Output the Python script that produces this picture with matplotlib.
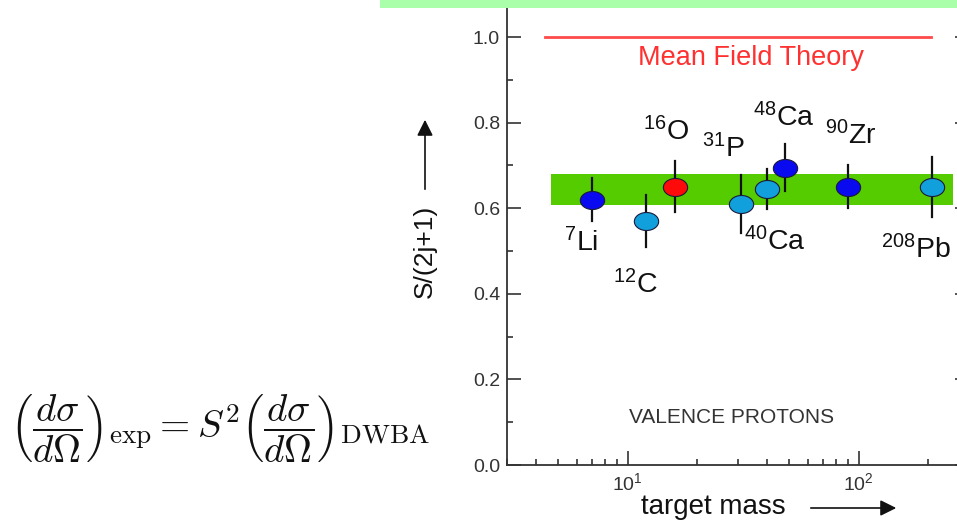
import matplotlib
matplotlib.use("Agg")
import matplotlib.pyplot as plt
from matplotlib.path import Path
from matplotlib.patches import Rectangle, FancyArrowPatch
import numpy as np

plt.rcParams['font.family'] = ['Liberation Sans', 'DejaVu Sans']
plt.rcParams['mathtext.fontset'] = 'custom'
plt.rcParams['mathtext.rm'] = 'Liberation Sans'
plt.rcParams['mathtext.it'] = 'Liberation Sans:italic'
plt.rcParams['mathtext.bf'] = 'Liberation Sans:bold'

# ---------------- data ----------------
mass = [7, 12, 16, 31, 40, 48, 90, 208]
strength = [0.62, 0.57, 0.65, 0.61, 0.645, 0.695, 0.65, 0.65]
strength_err = [0.05, 0.06, 0.06, 0.068, 0.047, 0.055, 0.05, 0.07]
point_kind = ['dark', 'light', 'red', 'light', 'light', 'dark', 'dark', 'light']

label_text = [r'$^{\mathregular{7}}$Li', r'$^{\mathregular{12}}$C', r'$^{\mathregular{16}}$O',
              r'$^{\mathregular{31}}$P', r'$^{\mathregular{40}}$Ca', r'$^{\mathregular{48}}$Ca',
              r'$^{\mathregular{90}}$Zr', r'$^{\mathregular{208}}$Pb']
label_x = [6.3, 10.8, 14.6, 25.8, 43.5, 47.5, 92, 176]
label_y = [0.50, 0.402, 0.759, 0.72, 0.502, 0.792, 0.75, 0.484]

band_x = [4.65, 255]
band_low = 0.608
band_high = 0.680

mft_x = [4.4, 205]
mft_y = [1.0, 1.0]

yticks = [0.0, 0.2, 0.4, 0.6, 0.8, 1.0]
ytick_labels = ['0.0', '0.2', '0.4', '0.6', '0.8', '1.0']
xticks = [10, 100]
xtick_labels = [r'$\mathregular{10^{1}}$', r'$\mathregular{10^{2}}$']

kind_colors = {'dark': '#0a0af0', 'light': '#12a0dc', 'red': '#ff0a0a'}

# ---------------- figure ----------------
W, H = 957, 523
fig = plt.figure(figsize=(W / 100, H / 100), dpi=100)
ax = fig.add_axes([507 / W, 58 / H, 462 / W, 1.1 * 428 / H])
ax.set_xscale('log')
ax.set_xlim(3, 300)
ax.set_ylim(0, 1.1)

# green band
ax.fill_between(band_x, [band_low] * 2, [band_high] * 2, color='#55cc00', lw=0, zorder=1)
# mean field line
ax.plot(mft_x, mft_y, color='#ff4a4a', lw=2.0, zorder=2)
ax.text(np.sqrt(mft_x[0] * mft_x[1]) * 1.14, 0.95, 'Mean Field Theory', color='#ff3030',
        fontsize=19.5, ha='center', va='center')

# ellipse marker
t = np.linspace(0, 2 * np.pi, 60)
ell = Path(np.column_stack([1.35 * np.cos(t), np.sin(t)]), closed=True)

for m, s, e, k in zip(mass, strength, strength_err, point_kind):
    ax.plot([m, m], [s - e, s + e], color='#111111', lw=1.6, zorder=3)
    ax.plot([m], [s], marker=ell, markersize=17.5, markerfacecolor=kind_colors[k],
            markeredgecolor='#1a1a3a', markeredgewidth=0.8, ls='none', zorder=4)

for tx, lx, ly in zip(label_text, label_x, label_y):
    ax.text(lx, ly, tx, fontsize=20.5, ha='center', va='baseline', color='#111111')

ax.text(0.487, 0.1, 'VALENCE PROTONS', transform=ax.transAxes,
        fontsize=15, ha='center', va='center', color='#333333')

# axes styling
for sp in ax.spines.values():
    sp.set_color('#333333')
    sp.set_linewidth(1.3)
ax.set_yticks(yticks)
ax.set_yticklabels(ytick_labels)
ax.set_xticks(xticks)
ax.set_xticklabels(xtick_labels)
ax.set_yticks([0.1, 0.3, 0.5, 0.7, 0.9], minor=True)
ax.tick_params(which='major', direction='in', length=10, width=1.2, color='#333333',
               labelsize=14, labelcolor='#333333', right=True, pad=5)
ax.tick_params(which='minor', direction='in', length=4, width=1.2, color='#333333', right=True)
ax.tick_params(axis='x', which='major', pad=5)

# axis labels
fig.text(425 / W, (H - 251) / H, 'S/(2j+1)', rotation=90, fontsize=19,
         ha='center', va='center', color='#111111')
fig.add_artist(FancyArrowPatch((425 / W, (H - 192) / H), (425 / W, (H - 117) / H),
                               transform=fig.transFigure, arrowstyle='-|>,head_length=6,head_width=3',
                               color='#111111', lw=1.2, mutation_scale=1.6))
fig.text(713 / W, (H - 507) / H, 'target mass', fontsize=20, ha='center', va='center',
         color='#111111')
fig.add_artist(FancyArrowPatch((808 / W, (H - 508) / H), (899 / W, (H - 508) / H),
                               transform=fig.transFigure, arrowstyle='-|>,head_length=6,head_width=3',
                               color='#111111', lw=1.2, mutation_scale=1.6))

# top decoration bar
fig.add_artist(Rectangle((380 / W, (H - 8) / H), (W - 380) / W, 8 / H,
                         transform=fig.transFigure, color='#aaffaa', lw=0, zorder=5))

# formula
fig.text(10 / W, (H - 428) / H,
         r'$\left(\dfrac{d\sigma}{d\Omega}\right)_{\rm exp} = S^2 \left(\dfrac{d\sigma}{d\Omega}\right)_{\rm DWBA}$',
         math_fontfamily='cm', fontsize=28, ha='left', va='center', color='#111111')

fig.savefig('out.png', dpi=100)
